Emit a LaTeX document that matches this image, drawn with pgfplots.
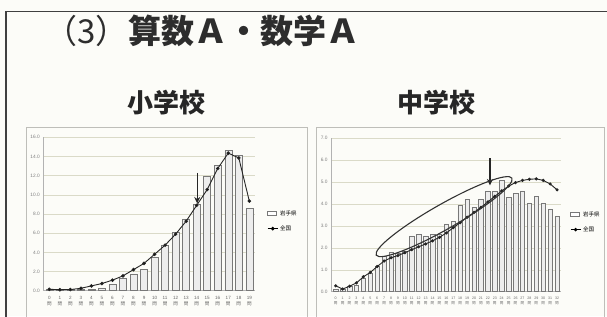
\documentclass[border=0pt]{standalone}
\usepackage{pgfplots}
\pgfplotsset{compat=1.18}
\usepackage{fontspec}
\setmainfont{Liberation Sans}
\newfontfamily\cjk{Noto Sans CJK JP}
\usetikzlibrary{arrows.meta}
\definecolor{bgc}{RGB}{252,252,248}
\definecolor{gridc}{RGB}{218,218,200}
\definecolor{barc}{RGB}{120,120,120}
\definecolor{framec}{RGB}{190,190,185}
\definecolor{titlec}{RGB}{45,45,45}
\pgfplotsset{
  mychart/.style={
    scale only axis,
    ymin=0,
    ymajorgrids,
    grid style={color=gridc, line width=0.5pt},
    axis x line*=bottom,
    axis y line*=left,
    axis line style={color=gray!60, line width=0.5pt},
    major tick length=0pt,
    yticklabel style={font=\fontsize{4.8}{5}\selectfont, text=gray,
      /pgf/number format/.cd, fixed, fixed zerofill, precision=1, assume math mode=true},
    xticklabel={\pgfmathprintnumber[assume math mode=true]{\tick}\\{\cjk 問}},
    legend style={draw=none, fill=none, anchor=west, inner sep=0pt,
      font=\cjk\fontsize{5.5}{6.5}\selectfont, row sep=5pt},
    legend cell align=left,
  },
  barstyle/.style={ybar, draw=barc, fill=gray!14, line width=0.5pt,
    legend image code/.code={\draw[draw=barc, fill=white, line width=0.5pt] (0pt,-1.8pt) rectangle (9pt,1.8pt);}},
  linestyle/.style={black!85, line width=0.9pt, mark=*, mark size=1.3pt, mark options={fill=black},
    legend image code/.code={\draw[black, line width=0.9pt] (0pt,0pt) -- (10pt,0pt); \fill[black] (5pt,0pt) circle (1.3pt);}},
}
\begin{document}
\begin{tikzpicture}[x=1pt,y=1pt]
\useasboundingbox (0,0) rectangle (607,316);
\fill[bgc] (0,0) rectangle (607,316);
\clip (0,0) rectangle (607,316);
% slide border
\draw[line width=1.5pt, color=black!75] (5.8,-5) -- (5.8,304.4) -- (612,304.4);
% titles
\node[anchor=west, text=titlec, inner sep=0pt] at (44,285) {\cjk\fontsize{33}{36}\selectfont （3）\bfseries 算数Ａ・数学Ａ};
\node[text=black!85, inner sep=0pt] at (166,213) {\cjk\bfseries\fontsize{26}{28}\selectfont 小学校};
\node[text=black!85, inner sep=0pt] at (436,213) {\cjk\bfseries\fontsize{26}{28}\selectfont 中学校};
% chart frames
\draw[framec, line width=0.7pt] (26,189) rectangle (307,-5);
\draw[framec, line width=0.7pt] (316,189) rectangle (604,-5);
% left chart
\begin{axis}[mychart,
  at={(43.3pt,25.3pt)}, anchor=south west,
  width=211.7pt, height=153.4pt,
  xmin=-0.57, xmax=19.54, ymax=16,
  ytick={0,2,...,16},
  xtick={0,...,19},
  xticklabel style={align=center, font=\fontsize{4.6}{6}\selectfont, text=gray!80!black, yshift=-2pt},
  legend style={at={(1.057,0.454)}},
]
\addplot[barstyle, bar width=7pt] coordinates {
(0,0.1) (1,0.1) (2,0.1) (3,0.1) (4,0.15) (5,0.3) (6,0.65) (7,1.3) (8,1.75) (9,2.25)
(10,3.5) (11,4.7) (12,6.1) (13,7.5) (14,9.0) (15,11.9) (16,13.1) (17,14.6) (18,14.1) (19,8.55)};
\addplot[linestyle] coordinates {
(0,0.15) (1,0.1) (2,0.12) (3,0.25) (4,0.5) (5,0.75) (6,1.1) (7,1.55) (8,2.2) (9,2.85)
(10,3.8) (11,4.75) (12,5.9) (13,7.25) (14,8.9) (15,10.55) (16,12.75) (17,14.35) (18,13.85) (19,9.35)};
\legend{岩手県,全国}
\draw[-{Stealth[length=6.5pt,width=6pt]}, line width=1.4pt, black!85] (axis cs:14.05,12.3) -- (axis cs:14.05,9.1);
\end{axis}
% right chart
\begin{axis}[mychart,
  at={(331pt,24.3pt)}, anchor=south west,
  width=229.5pt, height=153.4pt,
  xmin=-0.68, xmax=32.5, ymax=7,
  ytick={0,1,...,7},
  xtick={0,...,32},
  xticklabel style={align=center, font=\fontsize{3.6}{5}\selectfont, text=gray!80!black, yshift=-2pt},
  legend style={at={(1.041,0.454)}},
]
\addplot[barstyle, bar width=4.5pt] coordinates {
(0,0.1) (1,0.1) (2,0.25) (3,0.3) (4,0.6) (5,0.85) (6,1.15) (7,1.6) (8,1.82) (9,1.75)
(10,1.85) (11,2.55) (12,2.6) (13,2.55) (14,2.6) (15,2.6) (16,3.1) (17,3.2) (18,3.95) (19,4.2)
(20,3.85) (21,4.22) (22,4.6) (23,4.6) (24,5.08) (25,4.3) (26,4.47) (27,4.6) (28,4.04) (29,4.36)
(30,4.04) (31,3.74) (32,3.43)};
\addplot[linestyle, mark size=1.1pt] coordinates {
(0,0.27) (1,0.12) (2,0.25) (3,0.4) (4,0.68) (5,0.88) (6,1.15) (7,1.4) (8,1.55) (9,1.65)
(10,1.78) (11,1.92) (12,2.05) (13,2.18) (14,2.32) (15,2.48) (16,2.68) (17,2.92) (18,3.15) (19,3.4)
(20,3.62) (21,3.85) (22,4.1) (23,4.35) (24,4.6) (25,4.82) (26,4.98) (27,5.08) (28,5.13) (29,5.15)
(30,5.08) (31,4.92) (32,4.65)};
\legend{岩手県,全国}
\draw[-{Stealth[length=6.5pt,width=6pt]}, line width=1.4pt, black!85] (axis cs:22.3,6.1) -- (axis cs:22.3,4.85);
\coordinate (E) at (axis cs:15.67,3.425);
\end{axis}
\draw[line width=1.1pt, black!80, rotate around={29.6:(E)}] (E) ellipse (78pt and 12.5pt);
\end{tikzpicture}
\end{document}
